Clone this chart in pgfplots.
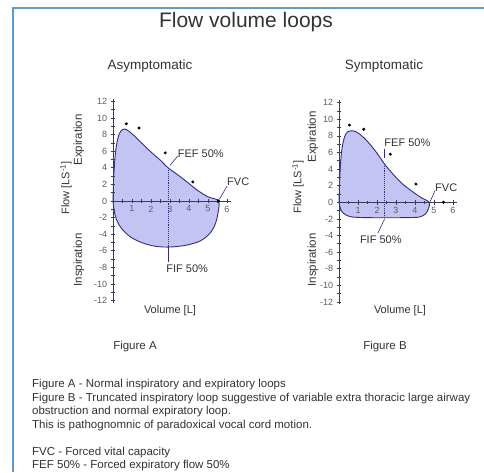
\documentclass[border=0pt]{standalone}
\usepackage{pgfplots}
\pgfplotsset{compat=1.18}
\usepackage{fontspec}
\setmainfont{Liberation Sans}

\definecolor{loopfill}{HTML}{C4C4F4}
\definecolor{loopline}{HTML}{2F2F7F}
\definecolor{axcol}{HTML}{3A3A5A}
\definecolor{txt}{HTML}{333333}
\definecolor{frame}{HTML}{5B9BD5}

\tikzset{ann/.style={font=\fontsize{11}{12}\selectfont, text=txt}}

\pgfplotsset{
  fvl/.style={
    scale only axis,
    width=117.8pt, height=204.2pt,
    xmin=0, xmax=6.2, ymin=-12.3, ymax=12.3,
    axis lines=middle,
    axis on top,
    axis line style={-, axcol, line width=0.8pt},
    xtick={1,2,3,4,5,6},
    ytick={-12,-10,...,12},
    minor xtick={0.5,1.5,2.5,3.5,4.5,5.5},
    minor ytick={-11,-9,...,11},
    tick align=center,
    major tick length=4.5pt, minor tick length=3.5pt,
    tick style={axcol, line width=0.7pt},
    hide obscured x ticks=false, hide obscured y ticks=false,
    ticklabel style={font=\fontsize{9}{10}\selectfont, text=txt!80},
    xticklabel style={yshift=1pt},
    /pgf/number format/assume math mode=true,
    clip=false,
  },
}

\begin{document}
\begin{tikzpicture}[x=1pt,y=1pt]
\clip (0,0) rectangle (484,472);
\useasboundingbox (0,0) rectangle (484,472);
\fill[white] (0,0) rectangle (484,472);
\draw[frame, line width=2pt] (13,0) -- (13,464) -- (484,464);

\node[font=\fontsize{21}{24}\selectfont, text=txt] at (246,450) {Flow volume loops};
\node[font=\fontsize{13.5}{15}\selectfont, text=txt] at (150,406) {Asymptomatic};
\node[font=\fontsize{13.5}{15}\selectfont, text=txt] at (384,406) {Symptomatic};

% Figure A
\begin{axis}[fvl, at={(113pt,168.9pt)}, anchor=south west]
\addplot[fill=loopfill, draw=loopline, line width=0.9pt, smooth, tension=0.6]
  coordinates {(0,0)(0.04,3)(0.14,6)(0.3,7.9)(0.5,8.6)(0.7,8.6)(1,8.1)(1.5,7.0)(2,5.9)(2.5,4.9)(2.9,4.0)(3.5,3.0)(4,2.1)(4.5,1.2)(5,0.5)(5.55,0)
  (5.52,-1.5)(5.38,-2.8)(5.1,-3.9)(4.6,-4.8)(4,-5.25)(3.5,-5.45)(2.9,-5.55)(2.4,-5.5)(2,-5.35)(1.5,-5.0)(1,-4.45)(0.6,-3.7)(0.3,-2.8)(0.1,-1.6)(0,0)};
\addplot[loopline, densely dotted, line width=1.1pt] coordinates {(2.9,4.0)(2.9,-5.55)};
\addplot[loopline, line width=0.6pt] coordinates {(3.0,4.3)(3.4,5.4)};
\addplot[loopline, line width=0.6pt] coordinates {(5.6,0.2)(6.0,1.8)};
\addplot[loopline, line width=0.6pt] coordinates {(2.9,-5.6)(2.9,-7.3)};
\addplot[only marks, mark=*, mark size=1.3pt, black] coordinates {(0.7,9.3)(1.37,8.8)(2.75,5.8)(4.2,2.3)(5.55,0)};
\node[ann, anchor=west, inner sep=1pt] at (axis cs:3.35,5.75) {FEF 50\%};
\node[ann, anchor=west, inner sep=1pt] at (axis cs:5.95,2.3) {FVC};
\node[ann, anchor=west, inner sep=1pt] at (axis cs:2.75,-8.2) {FIF 50\%};
\end{axis}

% Figure B
\begin{axis}[fvl, at={(339pt,167.6pt)}, anchor=south west]
\addplot[fill=loopfill, draw=loopline, line width=0.9pt, smooth, tension=0.6]
  coordinates {(0,0)(0.05,3.5)(0.16,6.5)(0.35,8.2)(0.6,8.6)(0.9,8.5)(1.3,7.8)(1.7,6.8)(2.1,5.6)(2.4,4.6)(2.8,3.5)(3.3,2.3)(3.8,1.4)(4.3,0.6)(4.75,0)
  (4.7,-0.8)(4.55,-1.4)(4.3,-1.72)(4,-1.82)(3,-1.86)(2,-1.86)(1,-1.82)(0.55,-1.7)(0.28,-1.4)(0.1,-0.9)(0,0)};
\addplot[loopline, densely dotted, line width=1.1pt] coordinates {(2.4,4.6)(2.4,-1.86)};
\addplot[loopline, line width=0.6pt] coordinates {(2.4,5.3)(2.4,6.4)};
\addplot[loopline, line width=0.6pt] coordinates {(4.8,0.1)(5.05,1.4)};
\addplot[loopline, line width=0.6pt] coordinates {(2.4,-2.0)(2.05,-3.7)};
\addplot[only marks, mark=*, mark size=1.3pt, black] coordinates {(0.55,9.3)(1.3,8.8)(2.7,5.8)(4.05,2.2)(5.5,0)};
\node[ann] at (axis cs:3.6,7.2) {FEF 50\%};
\node[ann, anchor=west, inner sep=1pt] at (axis cs:5.0,1.8) {FVC};
\node[ann] at (axis cs:2.2,-4.5) {FIF 50\%};
\end{axis}

% axis titles
\begin{scope}[text=txt]
\node[rotate=90, font=\fontsize{11}{12}\selectfont] at (66,284) {Flow [LS\textsuperscript{-1}]};
\node[rotate=90, font=\fontsize{11.5}{12}\selectfont] at (79,332) {Expiration};
\node[rotate=90, font=\fontsize{11.5}{12}\selectfont] at (79,212) {Inspiration};
\node[font=\fontsize{11}{12}\selectfont] at (170,161) {Volume [L]};
\node[rotate=90, font=\fontsize{11}{12}\selectfont] at (298,285) {Flow [LS\textsuperscript{-1}]};
\node[rotate=90, font=\fontsize{11.5}{12}\selectfont] at (313,335) {Expiration};
\node[rotate=90, font=\fontsize{11.5}{12}\selectfont] at (313,212) {Inspiration};
\node[font=\fontsize{11}{12}\selectfont] at (400,161) {Volume [L]};
\end{scope}

\node[font=\fontsize{11.5}{13}\selectfont, text=txt] at (135,125) {Figure A};
\node[font=\fontsize{11.5}{13}\selectfont, text=txt] at (385,125) {Figure B};

\begin{scope}[font=\fontsize{11.5}{13}\selectfont, text=txt, anchor=base west, inner sep=0pt]
\node at (32,84.5) {Figure A - Normal inspiratory and expiratory loops};
\node at (32,70.9) {Figure B - Truncated inspiratory loop suggestive of variable extra thoracic large airway};
\node at (32,57.3) {obstruction and normal expiratory loop.};
\node at (32,43.7) {This is pathognomnic of paradoxical vocal cord motion.};
\node at (32,16.5) {FVC - Forced vital capacity};
\node at (32,3.2) {FEF 50\% - Forced expiratory flow 50\%};
\end{scope}
\end{tikzpicture}
\end{document}
